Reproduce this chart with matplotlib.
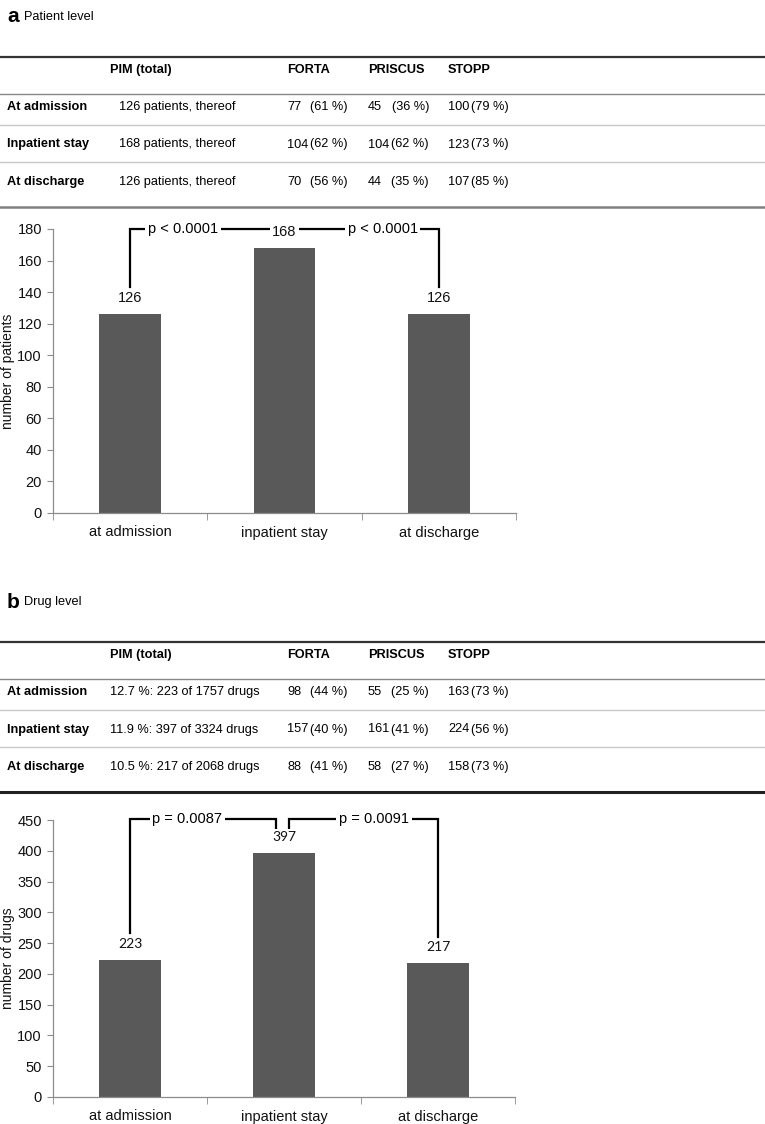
import matplotlib
matplotlib.use('Agg')
import matplotlib.pyplot as plt
from matplotlib.lines import Line2D

# data
row_labels = ['At admission', 'Inpatient stay', 'At discharge']
col_headers = ['PIM (total)', 'FORTA', 'PRISCUS', 'STOPP']

pim_patients = ['126 patients, thereof', '168 patients, thereof', '126 patients, thereof']
forta_pat = [77, 104, 70]
forta_pat_pct = [61, 62, 56]
priscus_pat = [45, 104, 44]
priscus_pat_pct = [36, 62, 35]
stopp_pat = [100, 123, 107]
stopp_pat_pct = [79, 73, 85]

pim_drugs = ['12.7 %: 223 of 1757 drugs', '11.9 %: 397 of 3324 drugs', '10.5 %: 217 of 2068 drugs']
forta_drug = [98, 157, 88]
forta_drug_pct = [44, 40, 41]
priscus_drug = [55, 161, 58]
priscus_drug_pct = [25, 41, 27]
stopp_drug = [163, 224, 158]
stopp_drug_pct = [73, 56, 73]

categories = ['at admission', 'inpatient stay', 'at discharge']
n_patients = [126, 168, 126]
n_drugs = [223, 397, 217]
p_patients = ['p < 0.0001', 'p < 0.0001']
p_drugs = ['p = 0.0087', 'p = 0.0091']

W, H = 765, 1124
fig = plt.figure(figsize=(W / 100, H / 100), dpi=100)

SANS = ['Liberation Sans', 'DejaVu Sans']
TFS = 9.2  # table font size


def fx(x):
    return x / W


def fy(y):
    return 1 - y / H


def hline(y, color, lw):
    fig.add_artist(Line2D([0, 1], [fy(y), fy(y)], transform=fig.transFigure,
                          color=color, lw=lw))


def table(top, letter, title, pim, pim_x, counts, pcts, bottom_color, bottom_lw):
    # top = y pixel of the upper rule
    fig.text(fx(7), fy(top - 40), letter, fontsize=15, fontweight='bold',
             family=SANS, va='center')
    fig.text(fx(24), fy(top - 40), title, fontsize=TFS, family=SANS, va='center')
    hline(top, '#333333', 1.6)
    hy = top + 13
    fig.text(fx(110), fy(hy), col_headers[0], fontsize=TFS, fontweight='bold',
             family=SANS, va='center')
    cols = [287, 368, 448]
    for c, h in zip(cols, col_headers[1:]):
        fig.text(fx(c), fy(hy), h, fontsize=TFS, fontweight='bold',
                 family=SANS, va='center')
    hline(top + 37, '#888888', 1.0)
    for i, lab in enumerate(row_labels):
        ry = top + 50 + 37.5 * i
        fig.text(fx(7), fy(ry), lab, fontsize=TFS, fontweight='bold',
                 family=SANS, va='center')
        fig.text(fx(pim_x), fy(ry), pim[i], fontsize=TFS, family=SANS, va='center')
        for c, cnt, pct in zip(cols, counts, pcts):
            fig.text(fx(c), fy(ry), str(cnt[i]), fontsize=TFS, family=SANS,
                     va='center')
            fig.text(fx(c + 61), fy(ry), '(%d %%)' % pct[i], fontsize=TFS,
                     family=SANS, va='center', ha='right')
        if i < 2:
            hline(top + 67.5 + 37.5 * i, '#c8c8c8', 1.0)
    hline(top + 150, bottom_color, bottom_lw)


table(57, 'a', 'Patient level', pim_patients, 119,
      [forta_pat, priscus_pat, stopp_pat],
      [forta_pat_pct, priscus_pat_pct, stopp_pat_pct], '#808080', 1.8)
table(642, 'b', 'Drug level', pim_drugs, 110,
      [forta_drug, priscus_drug, stopp_drug],
      [forta_drug_pct, priscus_drug_pct, stopp_drug_pct], '#222222', 2.2)


def bar_panel(rect, values, ymax, ystep, ylabel, label_font, label_size):
    ax = fig.add_axes(rect)
    x = list(range(len(categories)))
    ax.bar(x, values, width=0.4, color='#595959', zorder=2)
    ax.set_xlim(-0.5, 2.5)
    ax.set_ylim(0, ymax)
    ax.set_yticks(range(0, ymax + 1, ystep))
    ax.set_xticks(x)
    ax.set_xticklabels(categories)
    ax.set_xticks([-0.5, 0.5, 1.5, 2.5], minor=True)
    ax.tick_params(axis='x', which='major', length=0, pad=9, labelsize=10.5,
                   labelcolor='#111111')
    ax.tick_params(axis='x', which='minor', length=5, color='#8c8c8c', direction='out')
    ax.tick_params(axis='y', length=4, color='#8c8c8c', direction='out', pad=4,
                   labelsize=10.5, labelcolor='#111111')
    for lab in ax.get_xticklabels() + ax.get_yticklabels():
        lab.set_family(SANS)
    for s in ['top', 'right']:
        ax.spines[s].set_visible(False)
    for s in ['left', 'bottom']:
        ax.spines[s].set_color('#8c8c8c')
        ax.spines[s].set_linewidth(0.9)
    for xi, v in zip(x, values):
        ax.annotate(str(v), (xi, v), xytext=(0, 11.5), textcoords='offset points',
                    ha='center', va='center', fontsize=label_size, family=label_font,
                    color='#111111', zorder=5,
                    bbox=dict(facecolor='white', edgecolor='none', pad=1.5))
    fig.text(fx(8), (rect[1] + rect[3] / 2), ylabel, rotation=90, fontsize=10,
             family=SANS, va='center', ha='center', color='#111111')
    return ax


# panel a chart
ax1 = bar_panel([fx(53), fy(513), (516 - 53) / W, (513 - 229) / H],
                n_patients, 180, 20, 'number of patients', SANS, 10.5)
ax1.plot([0, 0, 2, 2], [143, 180, 180, 143], color='black', lw=1.6,
         clip_on=False, zorder=3, solid_joinstyle='miter')
for xp, t in zip([0.344, 1.636], p_patients):
    ax1.text(xp, 180, t, ha='center', va='center', fontsize=10.5, family=SANS,
             zorder=4, bbox=dict(facecolor='white', edgecolor='none', pad=2))

# panel b chart
ax2 = bar_panel([fx(53), fy(1097), (515 - 53) / W, (1097 - 820) / H],
                n_drugs, 450, 50, 'number of drugs', ['Lato', 'DejaVu Sans'], 10)
ax2.plot([0, 0, 0.945, 0.945], [267, 452, 452, 437], color='black', lw=1.6,
         clip_on=False, zorder=3, solid_joinstyle='miter')
ax2.plot([1.03, 1.03, 2, 2], [437, 452, 452, 260], color='black', lw=1.6,
         clip_on=False, zorder=3, solid_joinstyle='miter')
for xp, t in zip([0.373, 1.584], p_drugs):
    ax2.text(xp, 452, t, ha='center', va='center', fontsize=10.5, family=SANS,
             zorder=4, bbox=dict(facecolor='white', edgecolor='none', pad=2))

fig.savefig('out.png', dpi=100)
